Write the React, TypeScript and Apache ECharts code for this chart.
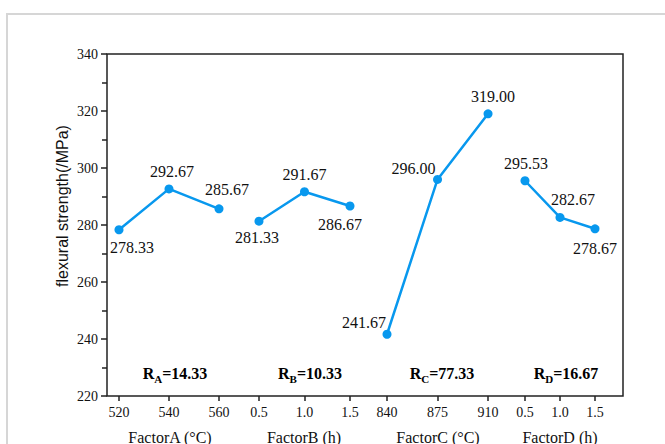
import React, { useEffect, useRef } from "react";
import * as echarts from "echarts";

const factorNames = ["FactorA (°C)", "FactorB (h)", "FactorC (°C)", "FactorD (h)"];
const levelsA = [520, 540, 560];
const levelsB = [0.5, 1.0, 1.5];
const levelsC = [840, 875, 910];
const levelsD = [0.5, 1.0, 1.5];
const strengthA = [278.33, 292.67, 285.67];
const strengthB = [281.33, 291.67, 286.67];
const strengthC = [241.67, 296.0, 319.0];
const strengthD = [295.53, 282.67, 278.67];
const rangeKeys = ["A", "B", "C", "D"];
const rangeValues = [14.33, 10.33, 77.33, 16.67];
const yTicks = [220, 240, 260, 280, 300, 320, 340];

const SERIF = "'Liberation Serif', 'Times New Roman', serif";
const BLUE = "#0898ee";

export default function App() {
  const ref = useRef<HTMLDivElement>(null);
  useEffect(() => {
    if (!ref.current) return;
    const chart = echarts.init(ref.current, null, { renderer: "svg" });

    const levels = [levelsA, levelsB, levelsC, levelsD];
    const values = [strengthA, strengthB, strengthC, strengthD];
    const ranges = [
      [515.2, 721.6],
      [-1.17, 4.5],
      [646, 1003.5],
      [-5.471, 1.9],
    ];
    const decimals = [0, 1, 0, 1];
    // label placement per point: [position, dx, dy]
    const place: any[][] = [
      [["bottom", 13, 0], ["top", 3, 0], ["top", 8, -2]],
      [["bottom", -2, -1], ["top", 0, 0], ["bottom", -10, 1]],
      [["top", -23, 6], ["top", -24, 7], ["top", 5, 0]],
      [["top", 1, 0], ["top", 13, 0], ["bottom", 0, 2]],
    ];

    const xAxis = levels.map((lv, i) => ({
      type: "value",
      gridIndex: 0,
      position: "bottom",
      offset: 0,
      min: ranges[i][0],
      max: ranges[i][1],
      axisLine: { show: false, onZero: false },
      splitLine: { show: false },
      axisTick: {
        show: true,
        customValues: lv,
        length: 5,
        lineStyle: { color: "#222", width: 1.5 },
      },
      axisLabel: {
        show: true,
        customValues: lv,
        formatter: (v: number) => v.toFixed(decimals[i]),
        fontFamily: SERIF,
        fontSize: 14,
        color: "#111",
        margin: 9,
      },
    }));

    const series = values.map((vals, i) => ({
      type: "line",
      xAxisIndex: i,
      yAxisIndex: 0,
      symbol: "circle",
      symbolSize: 9,
      lineStyle: { color: BLUE, width: 2.5 },
      itemStyle: { color: BLUE },
      data: vals.map((v, j) => ({
        value: [levels[i][j], v],
        label: {
          show: true,
          position: place[i][j][0],
          offset: [place[i][j][1], place[i][j][2]],
          formatter: v.toFixed(2),
          fontFamily: SERIF,
          fontSize: 16,
          color: "#111",
        },
      })),
    }));

    const factorX = [170, 304, 438, 560];
    const rX = [175, 310, 442, 566];

    chart.setOption({
      animation: false,
      backgroundColor: "#fff",
      grid: {
        left: 107,
        right: 42,
        top: 54,
        bottom: 48,
        show: true,
        borderColor: "#222",
        borderWidth: 1.5,
        backgroundColor: "transparent",
      },
      xAxis,
      yAxis: {
        type: "value",
        min: yTicks[0],
        max: yTicks[yTicks.length - 1],
        interval: 20,
        axisLine: { show: false, onZero: false },
        splitLine: { show: false },
        axisTick: { show: true, length: 6, lineStyle: { color: "#222", width: 1.5 } },
        minorTick: { show: true, splitNumber: 2, length: 5, lineStyle: { color: "#222", width: 1.5 } },
        axisLabel: { fontFamily: SERIF, fontSize: 14, color: "#111", margin: 9 },
      },
      series,
      graphic: [
        {
          type: "rect",
          silent: true,
          shape: { x: 7, y: 14, width: 800, height: 600 },
          style: { fill: "none", stroke: "#d6d6d6", lineWidth: 2 },
        },
        {
          type: "text",
          x: 62,
          y: 206,
          rotation: Math.PI / 2,
          style: {
            text: "flexural strength(/MPa)",
            font: "16px 'Liberation Sans', Arial, sans-serif",
            fill: "#111",
            align: "center",
            verticalAlign: "middle",
          },
        },
        ...factorNames.map((n, i) => ({
          type: "text",
          x: factorX[i],
          y: 437,
          style: {
            text: n,
            font: "16px " + SERIF,
            fill: "#111",
            align: "center",
            verticalAlign: "middle",
          },
        })),
        ...rangeKeys.map((k, i) => ({
          type: "text",
          x: rX[i],
          y: 373,
          style: {
            text: "{m|R}{s|" + k + "}{m|=" + rangeValues[i].toFixed(2) + "}",
            align: "center",
            verticalAlign: "middle",
            rich: {
              m: {
                fontFamily: SERIF,
                fontWeight: "bold",
                fontSize: 16,
                color: "#ff1a1a",
                lineHeight: 22,
                verticalAlign: "middle",
              },
              s: {
                fontFamily: SERIF,
                fontWeight: "bold",
                fontSize: 11,
                color: "#ff1a1a",
                lineHeight: 22,
                verticalAlign: "bottom",
              },
            },
          },
        })),
      ],
    });
    return () => chart.dispose();
  }, []);
  return (
    <div style={{ position: "fixed", left: 0, top: 0, width: 665, height: 444 }}>
      <div ref={ref} style={{ width: 665, height: 444 }} />
    </div>
  );
}
